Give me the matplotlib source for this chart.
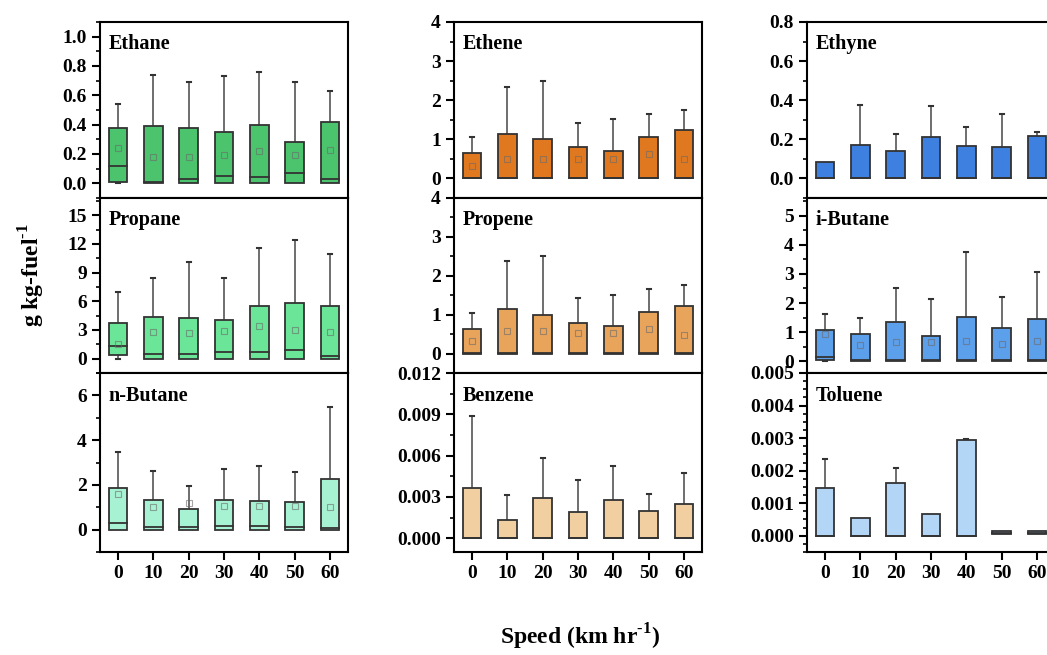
import numpy as np
import matplotlib
matplotlib.use("Agg")
import matplotlib.pyplot as plt
from matplotlib.ticker import MultipleLocator

plt.rcParams['font.family'] = ['Liberation Serif', 'DejaVu Serif']
plt.rcParams['font.weight'] = 'bold'
plt.rcParams['mathtext.fontset'] = 'custom'
plt.rcParams['mathtext.rm'] = 'Liberation Serif:bold'
plt.rcParams['mathtext.bf'] = 'Liberation Serif:bold'

speeds = [0, 10, 20, 30, 40, 50, 60]

# grid order, row by row
species = ["Ethane", "Ethene", "Ethyne",
           "Propane", "Propene", "i-Butane",
           "n-Butane", "Benzene", "Toluene"]

box_low = [
    [0.01, 0, 0, 0, 0, 0, 0],
    [0, 0, 0, 0, 0, 0, 0],
    [0, 0, 0, 0, 0, 0, 0],
    [0.42, 0, 0, 0, 0, 0, 0],
    [0, 0, 0, 0, 0, 0, 0],
    [0.05, 0, 0, 0, 0, 0, 0],
    [0, 0, 0, 0, 0, 0, 0],
    [0, 0, 0, 0, 0, 0, 0],
    [0, 0, 0, 0, 0, 0.00004, 0.00004],
]
box_high = [
    [0.38, 0.39, 0.38, 0.35, 0.40, 0.28, 0.42],
    [0.64, 1.14, 1.01, 0.81, 0.70, 1.07, 1.23],
    [0.085, 0.17, 0.14, 0.21, 0.166, 0.16, 0.217],
    [3.7, 4.4, 4.3, 4.06, 5.55, 5.8, 5.55],
    [0.64, 1.15, 1.0, 0.79, 0.70, 1.07, 1.22],
    [1.07, 0.95, 1.35, 0.875, 1.53, 1.16, 1.44],
    [1.87, 1.32, 0.94, 1.32, 1.30, 1.23, 2.28],
    [0.00362, 0.0013, 0.00289, 0.00188, 0.00276, 0.0020, 0.00245],
    [0.00147, 0.00053, 0.00162, 0.00068, 0.00293, 0.00014, 0.00014],
]
medians = [
    [0.12, 0.01, 0.03, 0.05, 0.045, 0.07, 0.03],
    [0.02, 0.02, 0.02, 0.02, 0.02, 0.02, 0.02],
    [0.003, 0.003, 0.003, 0.003, 0.003, 0.003, 0.003],
    [1.28, 0.49, 0.49, 0.7, 0.7, 0.87, 0.24],
    [0.02, 0.02, 0.02, 0.02, 0.02, 0.02, 0.02],
    [0.14, 0.05, 0.05, 0.05, 0.05, 0.05, 0.05],
    [0.3, 0.1, 0.1, 0.15, 0.15, 0.12, 0.07],
    [0.00005, 0.00005, 0.00005, 0.00005, 0.00005, 0.00005, 0.00005],
    [0, 0, 0, 0, 0, 0.00009, 0.00009],
]
means = [
    [0.24, 0.18, 0.18, 0.19, 0.22, 0.19, 0.23],
    [0.32, 0.5, 0.5, 0.5, 0.5, 0.63, 0.5],
    [np.nan] * 7,
    [1.5, 2.74, 2.67, 2.85, 3.37, 3.0, 2.78],
    [0.32, 0.58, 0.58, 0.54, 0.54, 0.64, 0.48],
    [0.93, 0.57, 0.65, 0.65, 0.7, 0.61, 0.7],
    [1.57, 1.0, 1.17, 1.05, 1.05, 1.05, 1.0],
    [np.nan] * 7,
    [np.nan] * 7,
]
whisker_high = [
    [0.54, 0.74, 0.69, 0.73, 0.76, 0.69, 0.63],
    [1.06, 2.35, 2.5, 1.42, 1.52, 1.65, 1.76],
    [0.085, 0.377, 0.225, 0.37, 0.262, 0.33, 0.237],
    [7.0, 8.47, 10.1, 8.47, 11.6, 12.4, 10.9],
    [1.05, 2.37, 2.52, 1.43, 1.5, 1.67, 1.76],
    [1.61, 1.48, 2.5, 2.15, 3.74, 2.2, 3.07],
    [3.45, 2.6, 1.95, 2.73, 2.85, 2.58, 5.47],
    [0.0089, 0.00313, 0.0058, 0.0042, 0.00526, 0.00323, 0.00472],
    [0.00235, 0.00053, 0.00208, 0.00068, 0.00296, 0.00014, 0.00014],
]
whisker_low = [
    [0.0, 0, 0, 0, 0, 0, 0],
    [0, 0, 0, 0, 0, 0, 0],
    [0, 0, 0, 0, 0, 0, 0],
    [0.0, 0, 0, 0, 0, 0, 0],
    [0, 0, 0, 0, 0, 0, 0],
    [0, 0, 0, 0, 0, 0, 0],
    [0, 0, 0, 0, 0, 0, 0],
    [0, 0, 0, 0, 0, 0, 0],
    [0, 0, 0, 0, 0, 0.00004, 0.00004],
]

colors = ["#4cc46e", "#e07820", "#3d80e0",
          "#6be597", "#e9a45c", "#5c9fea",
          "#a6f2d2", "#f2cfa0", "#b3d6f7"]
ylims = [(-0.1, 1.1), (-0.5, 4), (-0.1, 0.8),
         (-1.5, 16.8), (-0.5, 4), (-0.4, 5.6),
         (-1, 7), (-0.001, 0.012), (-0.0005, 0.005)]
major = [0.2, 1, 0.2, 3, 1, 1, 2, 0.003, 0.001]
minor = [0.1, 0.5, 0.1, 1.5, 0.5, 0.5, 1, 0.0015, 0.00025]
fmts = ["%.1f", "%d", "%.1f", "%d", "%d", "%d", "%d", "%.3f", "%.3f"]

W, H = 1047, 655
fig = plt.figure(figsize=(W / 100, H / 100), dpi=100)

col_left = [100, 454, 807]
col_w = 248
row_edges = [22, 198, 373, 552]

for i, name in enumerate(species):
    r, c = divmod(i, 3)
    top, bot = row_edges[r], row_edges[r + 1]
    ax = fig.add_axes([col_left[c] / W, 1 - bot / H, col_w / W, (bot - top) / H])
    lo = np.array(box_low[i])
    hi = np.array(box_high[i])
    ax.bar(speeds, hi - lo, bottom=lo, width=5.2, color=colors[i],
           edgecolor="#333333", linewidth=1.3, zorder=2)
    for x, b, t, wl, wh, md, mn in zip(speeds, lo, hi, whisker_low[i],
                                        whisker_high[i], medians[i], means[i]):
        if wh > t:
            ax.plot([x, x], [t, wh], color="#555555", lw=1.2, zorder=1)
            ax.plot([x - 0.6, x + 0.6], [wh, wh], color="#333333", lw=1.5, zorder=1)
        if wl < b:
            ax.plot([x, x], [wl, b], color="#555555", lw=1.2, zorder=1)
            ax.plot([x - 0.6, x + 0.6], [wl, wl], color="#333333", lw=1.5, zorder=1)
        ax.plot([x - 2.6, x + 2.6], [md, md], color="#333333", lw=1.3, zorder=3)
        if not np.isnan(mn):
            ax.plot(x, mn, marker="s", ms=5, mfc="none", mec="#6a6a6a",
                    mew=0.8, alpha=0.6, zorder=3)

    ax.set_xlim(-5.1, 65.1)
    ax.set_ylim(*ylims[i])
    ax.set_xticks(speeds)
    ax.yaxis.set_major_locator(MultipleLocator(major[i]))
    ax.yaxis.set_minor_locator(MultipleLocator(minor[i]))
    ax.yaxis.set_major_formatter(plt.FormatStrFormatter(fmts[i]))
    ax.tick_params(axis="both", which="major", direction="out", length=6,
                   width=1.5, labelsize=14)
    ax.tick_params(axis="y", which="minor", direction="out", length=3, width=1.2)
    if r < 2:
        ax.tick_params(axis="x", labelbottom=False)
    for s in ax.spines.values():
        s.set_linewidth(1.5)
    ax.text(0.035, 0.93, name, transform=ax.transAxes, ha="left", va="top",
            fontsize=14.5, fontweight="bold")

fig.text(32 / W, 1 - 275 / H, r"g kg-fuel$^{\text{-1}}$", rotation=90,
         ha="center", va="center", fontsize=17, fontweight="bold")
fig.text(580 / W, 1 - 637 / H, r"Speed (km hr$^{\text{-1}}$)",
         ha="center", va="center", fontsize=17, fontweight="bold")

fig.savefig("out.png", dpi=100, facecolor="white")
